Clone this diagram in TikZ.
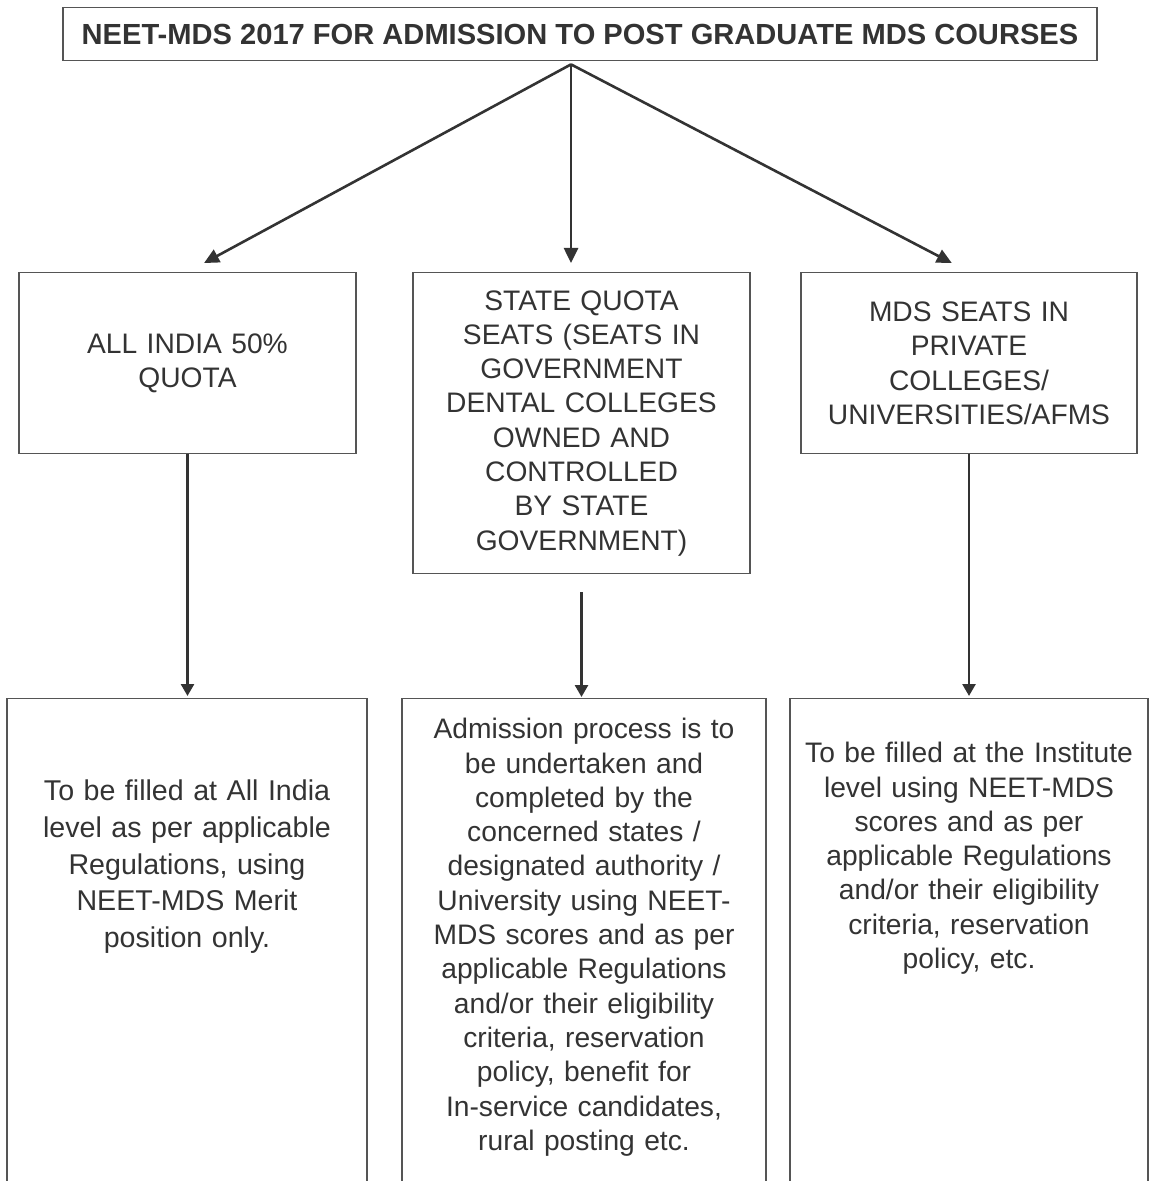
\documentclass[tikz,border=0pt]{standalone}
\usepackage{fontspec}
\setmainfont{Liberation Sans}
\usetikzlibrary{arrows.meta,calc,positioning}

\definecolor{inkgray}{HTML}{333333}
\definecolor{rulegray}{HTML}{555555}

\tikzset{
  titlebox/.style={draw=rulegray,line width=0.7pt,anchor=north,text=inkgray,
                   minimum width=517pt,minimum height=26.5pt,inner sep=0pt,
                   font=\bfseries\fontsize{14.55pt}{17pt}\selectfont},
  quotabox/.style={draw=rulegray,line width=0.7pt,anchor=north,align=center,
                   text=inkgray,inner xsep=5pt,inner ysep=0pt,
                   font=\fontsize{14.1pt}{17.15pt}\selectfont},
  fillbox/.style={quotabox,text depth=320pt},
  topflow/.style={>={Triangle[length=7.5pt,width=7pt]},->,draw=inkgray,line width=1.3pt},
  downflow/.style={>={Triangle[length=6pt,width=6.5pt]},->,draw=inkgray,line width=1.3pt},
}

\begin{document}
\begin{tikzpicture}[x=0.5pt,y=-0.5pt]
  \useasboundingbox (0,0) rectangle (1149,1181);
  \clip (0,0) rectangle (1149,1181);
%
  \node [titlebox] (neet) at (580,7)
    {NEET-MDS 2017 FOR ADMISSION TO POST GRADUATE MDS COURSES};
%
  \node [quotabox,text width=158.5pt,minimum height=90.5pt] (qa) at (187.5,272)
    {ALL INDIA 50\%\\QUOTA};
  \node [quotabox,text width=158.5pt,minimum height=150.5pt] (qb) at (581.5,272)
    {STATE QUOTA\\SEATS (SEATS IN\\GOVERNMENT\\DENTAL COLLEGES\\OWNED AND\\CONTROLLED\\BY STATE\\GOVERNMENT)};
  \node [quotabox,text width=158pt,minimum height=90.5pt] (qc) at (969,272)
    {MDS SEATS IN\\PRIVATE\\COLLEGES/\\UNIVERSITIES/AFMS};
%
  \node [fillbox,text width=170pt,text height=51pt,
         font=\fontsize{14.3pt}{18.35pt}\selectfont] (fa) at (187,698)
    {To be filled at All India\\level as per applicable\\Regulations, using\\NEET-MDS Merit\\position only.};
  \node [fillbox,text width=172pt,text height=20pt] (fb) at (584,698)
    {Admission process is to\\be undertaken and\\completed by the\\concerned states /\\designated authority /\\University using NEET-\\MDS scores and as per\\applicable Regulations\\and/or their eligibility\\criteria, reservation\\policy, benefit for\\In-service candidates,\\rural posting etc.};
  \node [fillbox,text width=169pt,text height=32pt] (fc) at (969,698)
    {To be filled at the Institute\\level using NEET-MDS\\scores and as per\\applicable Regulations\\and/or their eligibility\\criteria, reservation\\policy, etc.};
%
  \coordinate (apex) at ([xshift=-4.5pt,yshift=-1.5pt]neet.south);
  \draw [topflow,shorten >=9.4pt] (apex) -- (qa.north);
  \draw [topflow,shorten >=4.5pt] (apex) -- (apex |- qb.north);
  \draw [topflow,shorten >=9.7pt] (apex) -- (qc.north);
%
  \draw [downflow,shorten >=1pt] (qa.south) -- (qa.south |- fa.north);
  \draw [downflow,shorten <=9pt,shorten >=0.5pt] (qb.south) -- (qb.south |- fb.north);
  \draw [downflow,shorten >=1pt] (qc.south) -- (qc.south |- fc.north);
\end{tikzpicture}
\end{document}
